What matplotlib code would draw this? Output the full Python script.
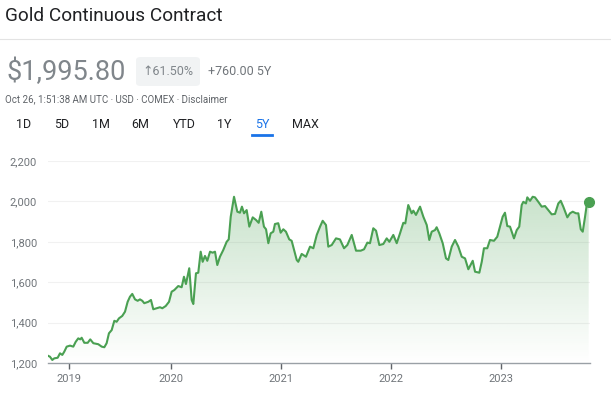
import numpy as np
import matplotlib
matplotlib.use("Agg")
import matplotlib.pyplot as plt
from matplotlib.patches import FancyBboxPatch, Polygon
from matplotlib.lines import Line2D

# gold continuous contract, 5Y (decimal year, USD)
years = [
    2018.885, 2018.900, 2018.921, 2018.939, 2018.970, 2018.991, 2019.012, 2019.030,
    2019.052, 2019.082, 2019.112, 2019.134, 2019.157, 2019.175, 2019.188, 2019.212,
    2019.243, 2019.266, 2019.294, 2019.339, 2019.370, 2019.394, 2019.415, 2019.436,
    2019.461, 2019.485, 2019.506, 2019.527, 2019.557, 2019.582, 2019.606, 2019.627,
    2019.648, 2019.673, 2019.697, 2019.718, 2019.739, 2019.757, 2019.794, 2019.818,
    2019.839, 2019.870, 2019.900, 2019.921, 2019.952, 2019.982, 2020.006, 2020.030,
    2020.066, 2020.097, 2020.118, 2020.136, 2020.166, 2020.188, 2020.203, 2020.227,
    2020.248, 2020.270, 2020.288, 2020.309, 2020.330, 2020.355, 2020.379, 2020.400,
    2020.421, 2020.445, 2020.475, 2020.506, 2020.525, 2020.543, 2020.573, 2020.603,
    2020.627, 2020.645, 2020.664, 2020.688, 2020.712, 2020.743, 2020.773, 2020.797,
    2020.821, 2020.845, 2020.864, 2020.885, 2020.906, 2020.930, 2020.945, 2020.975,
    2020.997, 2021.021, 2021.045, 2021.075, 2021.097, 2021.143, 2021.157, 2021.188,
    2021.227, 2021.264, 2021.294, 2021.325, 2021.355, 2021.379, 2021.409, 2021.430,
    2021.461, 2021.500, 2021.536, 2021.573, 2021.603, 2021.643, 2021.682, 2021.725,
    2021.755, 2021.785, 2021.809, 2021.839, 2021.864, 2021.894, 2021.930, 2021.961,
    2021.985, 2022.021, 2022.052, 2022.082, 2022.112, 2022.130, 2022.157, 2022.188,
    2022.203, 2022.227, 2022.264, 2022.294, 2022.325, 2022.348, 2022.370, 2022.400,
    2022.415, 2022.439, 2022.470, 2022.500, 2022.521, 2022.552, 2022.582, 2022.612,
    2022.643, 2022.673, 2022.703, 2022.743, 2022.764, 2022.803, 2022.825, 2022.845,
    2022.875, 2022.900, 2022.936, 2022.966, 2022.991, 2023.015, 2023.036, 2023.057,
    2023.082, 2023.118, 2023.143, 2023.166, 2023.188, 2023.203, 2023.227, 2023.239,
    2023.264, 2023.288, 2023.309, 2023.339, 2023.370, 2023.400, 2023.430, 2023.461,
    2023.491, 2023.521, 2023.543, 2023.566, 2023.603, 2023.627, 2023.652, 2023.682,
    2023.703, 2023.725, 2023.743, 2023.764, 2023.779, 2023.797,
]
prices = [
    1235, 1231, 1215, 1223, 1226, 1248, 1240, 1256,
    1281, 1286, 1281, 1305, 1322, 1317, 1325, 1300,
    1300, 1317, 1298, 1293, 1281, 1278, 1298, 1347,
    1363, 1409, 1404, 1421, 1433, 1454, 1503, 1528,
    1542, 1515, 1508, 1515, 1508, 1496, 1503, 1512,
    1466, 1471, 1476, 1471, 1482, 1503, 1553, 1561,
    1581, 1575, 1627, 1591, 1669, 1512, 1492, 1644,
    1647, 1751, 1701, 1730, 1706, 1751, 1746, 1751,
    1685, 1726, 1759, 1800, 1812, 1924, 2023, 1949,
    1944, 1974, 1941, 1957, 1875, 1921, 1908, 1894,
    1949, 1875, 1862, 1793, 1842, 1850, 1888, 1892,
    1845, 1862, 1850, 1812, 1805, 1710, 1701, 1740,
    1726, 1776, 1768, 1834, 1875, 1904, 1883, 1776,
    1784, 1817, 1812, 1768, 1784, 1834, 1756, 1756,
    1763, 1796, 1793, 1867, 1855, 1784, 1789, 1817,
    1800, 1834, 1793, 1842, 1894, 1891, 1982, 1941,
    1954, 1933, 1974, 1924, 1883, 1809, 1850, 1858,
    1872, 1842, 1793, 1718, 1710, 1776, 1809, 1776,
    1726, 1718, 1664, 1706, 1652, 1647, 1701, 1768,
    1768, 1809, 1805, 1825, 1875, 1924, 1944, 1878,
    1875, 1817, 1858, 1875, 1982, 1998, 1990, 2020,
    2003, 2023, 2020, 1998, 1974, 1977, 1957, 1936,
    1938, 1990, 2003, 1974, 1921, 1941, 1949, 1941,
    1941, 1862, 1850, 1924, 1982, 1995.8,
]

y_ticks = [1200, 1400, 1600, 1800, 2000, 2200]
x_tick_pos = [2019.075, 2020, 2021, 2022, 2023]
x_tick_labels = ["2019", "2020", "2021", "2022", "2023"]
ranges = ["1D", "5D", "1M", "6M", "YTD", "1Y", "5Y", "MAX"]
range_x = [24, 62, 101, 140, 184, 224, 262, 305]

GREEN = "#4aa052"
GRAY = "#70757a"
DARK = "#202124"
plt.rcParams["font.family"] = ["Roboto", "DejaVu Sans"]

W, H = 611, 395
fig = plt.figure(figsize=(W / 100, H / 100), dpi=100)
fig.patch.set_facecolor("white")

def px(x, y):
    return x / W, 1 - y / H

# header
fig.text(*px(5, 16), "Gold Continuous Contract", fontsize=13.7, color=DARK, va="center", ha="left")
fig.add_artist(Line2D([0, 1], [1 - 38.5 / H] * 2, color="#e3e3e3", lw=0.8))
fig.text(*px(6, 72), "$1,995.80", fontsize=19.5, color="#80868b", va="center", ha="left")
badge = FancyBboxPatch(px(136, 86), 64 / W, 29 / H, boxstyle="round,pad=0,rounding_size=0.008",
                       transform=fig.transFigure, facecolor="#f1f3f4", edgecolor="none")
fig.add_artist(badge)
fig.text(*px(168, 71.5), "↑61.50%", fontsize=9, color="#80868b", va="center", ha="center")
fig.text(*px(208, 71.5), "+760.00 5Y", fontsize=9, color=GRAY, va="center", ha="left")
fig.text(*px(5, 99), "Oct 26, 1:51:38 AM UTC · USD · COMEX · Disclaimer",
         fontsize=7, color="#5f6368", va="center", ha="left")
for lab, xc in zip(ranges, range_x):
    col = "#1a73e8" if lab == "5Y" else DARK
    fig.text(*px(xc, 125), lab, fontsize=9, color=col, va="center", ha="center")
fig.add_artist(Line2D([252 / W, 272 / W], [1 - 135 / H] * 2, color="#1a73e8", lw=2))

# chart
ax = fig.add_axes([48 / W, 1 - 363 / H, 542 / W, 202 / H])
x = np.array(years)
y = np.array(prices)
ax.set_xlim(2018.882, 2023.809)
ax.set_ylim(1200, 2200)

# gradient fill under the line
top = 2030
grad = np.zeros((256, 2, 4))
grad[..., 0] = 0x4a / 255
grad[..., 1] = 0xa0 / 255
grad[..., 2] = 0x52 / 255
grad[..., 3] = np.linspace(0.30, 0.0, 256)[:, None]
im = ax.imshow(grad, extent=[x[0], x[-1], 1200, top], aspect="auto", origin="upper", zorder=1)
poly = Polygon(np.column_stack([np.r_[x[0], x, x[-1]], np.r_[1200, y, 1200]]),
               closed=True, transform=ax.transData, facecolor="none", edgecolor="none")
ax.add_patch(poly)
im.set_clip_path(poly)

ax.plot(x, y, color=GREEN, lw=1.5, zorder=3, solid_joinstyle="round")
ax.plot(x[-1], y[-1], "o", color=GREEN, ms=7, zorder=4, clip_on=False)

for v in y_ticks[1:]:
    ax.axhline(v, color="#f1f1f1", lw=0.8, zorder=0)
ax.set_yticks(y_ticks)
ax.set_yticklabels([f"{v:,}" for v in y_ticks])
ax.set_xticks(x_tick_pos)
ax.set_xticklabels(x_tick_labels)
ax.tick_params(axis="y", length=0, pad=8, labelsize=8, labelcolor=GRAY)
ax.tick_params(axis="x", length=4, width=1, color="#5f6368", pad=4, labelsize=8, labelcolor=GRAY)
for s in ["top", "right", "left"]:
    ax.spines[s].set_visible(False)
ax.spines["bottom"].set_color("#9aa0a6")
ax.spines["bottom"].set_linewidth(1)
ax.set_facecolor("none")

fig.savefig("out.png", dpi=100, facecolor="white")
